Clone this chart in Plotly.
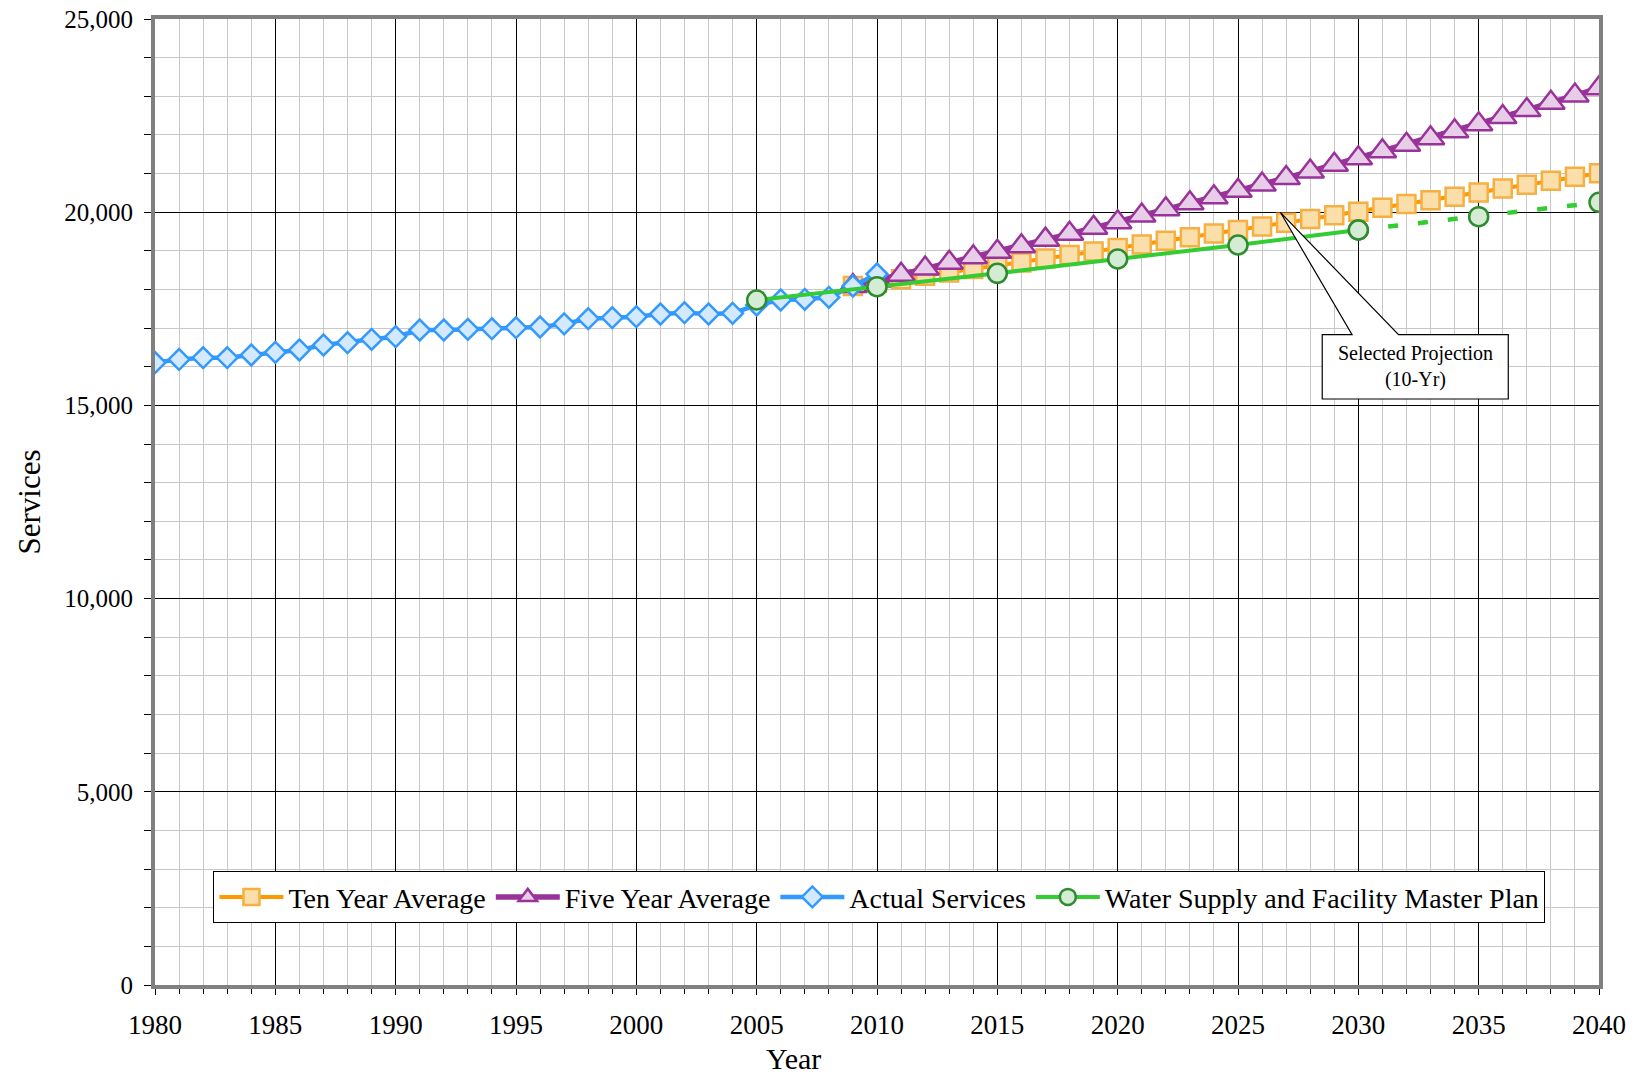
import plotly.graph_objects as go

# ---------------- data ----------------
actual_years = list(range(1980, 2011))
actual_values = [16110, 16190, 16235, 16235, 16305, 16374, 16434, 16563, 16623, 16710,
                 16778, 16951, 16951, 16969, 16986, 17011, 17030, 17110, 17244, 17270,
                 17296, 17365, 17400, 17365, 17383, 17598, 17728, 17745, 17797, 18090,
                 18400]

proj_years = list(range(2009, 2041))
ten_year_values = [18090, 18177, 18265, 18353, 18442, 18531, 18620, 18700, 18800, 18890,
                   18980, 19075, 19165, 19262, 19349, 19448, 19539, 19628, 19730, 19824,
                   19922, 20013, 20117, 20212, 20310, 20401, 20512, 20615, 20708, 20815,
                   20915, 21006]
five_year_values = [18090, 18230, 18380, 18540, 18693, 18836, 18978, 19120, 19289, 19440,
                    19596, 19741, 19914, 20075, 20230, 20388, 20556, 20716, 20885, 21053,
                    21227, 21398, 21575, 21747, 21915, 22093, 22274, 22464, 22645, 22834,
                    23020, 23209]

plan_years = [2005, 2010, 2015, 2020, 2025, 2030]
plan_values = [17728, 18072, 18418, 18789, 19151, 19539]
plan_ext_years = [2030, 2035, 2040]
plan_ext_values = [19539, 19884, 20255]

x_tick_vals = list(range(1980, 2041, 5))
y_tick_vals = [0, 5000, 10000, 15000, 20000, 25000]
y_tick_text = ["0", "5,000", "10,000", "15,000", "20,000", "25,000"]

callout_text = "Selected Projection<br>(10-Yr)"
x_title = "Year"
y_title = "Services"

FONT = "Liberation Serif"

fig = go.Figure()

fig.add_trace(go.Scatter(
    x=proj_years, y=ten_year_values, name="Ten Year Average", mode="lines+markers",
    line=dict(color="#FF9900", width=4),
    marker=dict(symbol="square", size=18, color="#FBDFAB",
                line=dict(color="#F5B041", width=2.5))))

fig.add_trace(go.Scatter(
    x=proj_years, y=five_year_values, name="Five Year Average", mode="lines+markers",
    line=dict(color="#993399", width=5.5),
    marker=dict(symbol="triangle-up", size=24, color="#E8CDE8",
                line=dict(color="#993399", width=2.5))))

fig.add_trace(go.Scatter(
    x=actual_years, y=actual_values, name="Actual Services", mode="lines+markers",
    line=dict(color="#3399FF", width=4.5),
    marker=dict(symbol="diamond", size=16, color="#D3E9FF",
                line=dict(color="#3399FF", width=2.5))))

fig.add_trace(go.Scatter(
    x=plan_years, y=plan_values, name="Water Supply and Facility Master Plan",
    mode="lines+markers",
    line=dict(color="#33CC33", width=4),
    marker=dict(symbol="circle", size=19, color="#D4EBD4",
                line=dict(color="#2E8B2E", width=2.5))))

fig.add_trace(go.Scatter(
    x=plan_ext_years, y=plan_ext_values, showlegend=False, mode="lines+markers",
    line=dict(color="#33CC33", width=4.5, dash="10px,20px"),
    marker=dict(symbol="circle", size=19, color="#D4EBD4",
                line=dict(color="#2E8B2E", width=2.5))))

# callout (box + wedge) in data coordinates
tip = (2026.76, 19997)
bl, br = 2029.74, 2031.67
bx0, bx1, by0, by1 = 2028.5, 2036.23, 15166, 16830
path = (f"M {bx0},{by1} L {bl},{by1} L {tip[0]},{tip[1]} L {br},{by1} "
        f"L {bx1},{by1} L {bx1},{by0} L {bx0},{by0} Z")
fig.add_shape(type="path", path=path, xref="x", yref="y",
              line=dict(color="black", width=1.2), fillcolor="white", layer="above")
fig.add_annotation(x=(bx0 + bx1) / 2, y=(by0 + by1) / 2, xref="x", yref="y",
                   text=callout_text, showarrow=False,
                   font=dict(family=FONT, size=20, color="black"))

# axis titles as annotations (reference "Year" is left of centre)
fig.add_annotation(x=0.4425, y=-0.0765, xref="paper", yref="paper", text=x_title,
                   showarrow=False, xanchor="center", yanchor="middle",
                   font=dict(family=FONT, size=30, color="black"))
fig.add_annotation(x=-0.0876, y=0.5, xref="paper", yref="paper", text=y_title,
                   showarrow=False, xanchor="center", yanchor="middle", textangle=-90,
                   font=dict(family=FONT, size=31, color="black"))

fig.update_layout(
    width=1637, height=1077,
    margin=dict(l=155, r=38, t=19, b=92, autoexpand=False),
    plot_bgcolor="white", paper_bgcolor="white",
    font=dict(family=FONT, color="black"),
    legend=dict(orientation="h", x=0.5017, xanchor="center", y=0.064, yanchor="bottom",
                bgcolor="white", bordercolor="black", borderwidth=1,
                font=dict(family=FONT, size=28), traceorder="normal", itemwidth=64),
)

fig.update_xaxes(
    range=[1980, 2040], tickmode="array", tickvals=x_tick_vals, automargin=False,
    tickfont=dict(family=FONT, size=27), ticks="outside", ticklen=6, tickcolor="black",
    ticklabelstandoff=7,
    showgrid=True, gridcolor="black", gridwidth=1,
    minor=dict(dtick=1, showgrid=True, gridcolor="#C8C8C8", gridwidth=1,
               ticks="outside", ticklen=5, tickcolor="black"),
    showline=True, linecolor="#808080", linewidth=4, mirror=True,
    zeroline=False,
)

fig.update_yaxes(
    range=[0, 25000], tickmode="array", tickvals=y_tick_vals, ticktext=y_tick_text,
    automargin=False,
    tickfont=dict(family=FONT, size=25), ticks="outside", ticklen=7, tickcolor="black",
    ticklabelstandoff=6,
    showgrid=True, gridcolor="black", gridwidth=1,
    minor=dict(dtick=1000, showgrid=True, gridcolor="#C8C8C8", gridwidth=1,
               ticks="outside", ticklen=7, tickcolor="black"),
    showline=True, linecolor="#808080", linewidth=4, mirror=True,
    zeroline=False,
)

fig.write_html("out.html", config={"displayModeBar": False},
               post_script="document.body.style.margin='0';")
